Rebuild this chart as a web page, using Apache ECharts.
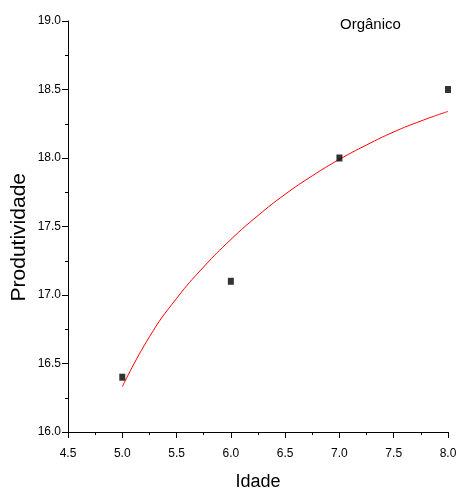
<!DOCTYPE html>
<html><head><meta charset="utf-8">
<script src="https://cdn.jsdelivr.net/npm/echarts@6/dist/echarts.min.js"></script>
<style>html,body{margin:0;padding:0;background:#fff}#c{width:459px;height:491px}</style>
</head><body><div id="c"></div>
<script>
// Observed data
const idade = [5, 6, 7, 8];
const produtividade = [16.4, 17.1, 18.0, 18.5];
// Fitted curve
const curveX = [5.0, 5.25, 5.5, 5.75, 6.0, 6.25, 6.5, 6.75, 7.0, 7.25, 7.5, 7.75, 8.0];
const curveY = [16.33, 16.695, 16.975, 17.205, 17.405, 17.58, 17.735, 17.87, 17.99, 18.095, 18.19, 18.27, 18.34];
const xTicks = [4.5, 5.0, 5.5, 6.0, 6.5, 7.0, 7.5, 8.0];
const yTicks = [16.0, 16.5, 17.0, 17.5, 18.0, 18.5, 19.0];
const title = 'Orgânico';

const font = '"Liberation Sans", Arial, sans-serif';
const chart = echarts.init(document.getElementById('c'), null, {renderer: 'canvas'});
const axisCommon = {
  axisLine: {show: true, onZero: false, lineStyle: {color: '#000', width: 1}},
  axisTick: {show: true, inside: false, length: 6, lineStyle: {color: '#000', width: 1}},
  minorTick: {show: true, splitNumber: 2, length: 3, lineStyle: {color: '#000', width: 1}},
  splitLine: {show: false},
  axisLabel: {color: '#000', fontFamily: font, fontSize: 12, formatter: v => Number(v).toFixed(1)}
};
chart.setOption({
  animation: false,
  backgroundColor: '#fff',
  grid: {left: 68, right: 11, top: 21, bottom: 59, containLabel: false, outerBoundsMode: 'none'},
  title: {text: title, left: 340, top: 17, padding: 0, textStyle: {fontFamily: font, fontSize: 15, fontWeight: 'normal', color: '#000'}},
  graphic: [{
    type: 'text', left: 9, top: 173, rotation: Math.PI / 2,
    style: {text: 'Produtividade', font: '21px ' + font, fill: '#000'}
  }],
  xAxis: Object.assign({}, axisCommon, {
    type: 'value', min: xTicks[0], max: xTicks[xTicks.length - 1], interval: 0.5,
    name: 'Idade', nameLocation: 'middle', nameGap: 41,
    nameTextStyle: {fontFamily: font, fontSize: 18, color: '#000'},
    axisLabel: Object.assign({}, axisCommon.axisLabel, {margin: 16})
  }),
  yAxis: Object.assign({}, axisCommon, {
    type: 'value', min: yTicks[0], max: yTicks[yTicks.length - 1], interval: 0.5,
    axisLabel: Object.assign({}, axisCommon.axisLabel, {margin: 7})
  }),
  series: [{
    type: 'line', data: curveX.map((x, i) => [x, curveY[i]]), smooth: 0.5, showSymbol: false,
    lineStyle: {color: '#ff0000', width: 1}, z: 2
  }, {
    type: 'scatter', data: idade.map((x, i) => [x, produtividade[i]]),
    symbol: 'rect', symbolSize: [6, 7], itemStyle: {color: '#000'}, z: 3
  }]
});
</script></body></html>
